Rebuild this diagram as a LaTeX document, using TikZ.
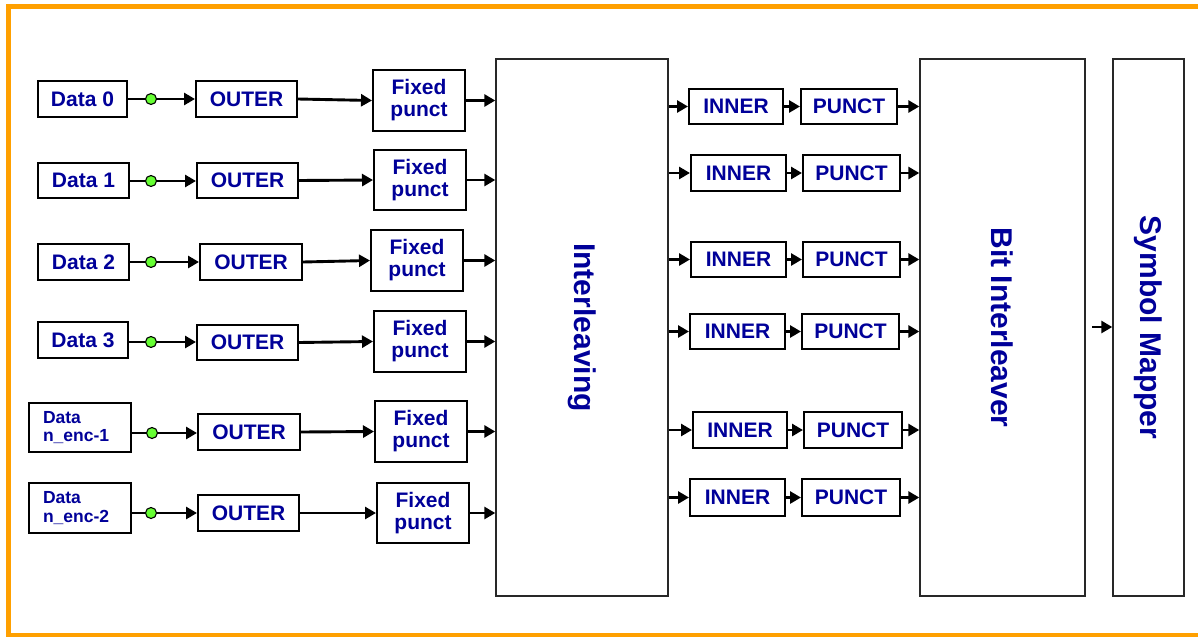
\documentclass[tikz,border=0pt]{standalone}
\usepackage{fontspec}
\setmainfont{Liberation Sans}
\usetikzlibrary{arrows.meta}
\definecolor{tblue}{RGB}{0,0,153}
\definecolor{frameorange}{RGB}{255,160,0}
\definecolor{dotgreen}{RGB}{102,255,51}
\definecolor{bigline}{RGB}{40,40,40}
\begin{document}
\begin{tikzpicture}[x=1pt,y=-1pt,
  box/.style={draw, line width=2pt, fill=white, inner sep=0pt, text=tblue,
    font=\fontsize{21}{22}\selectfont\bfseries, align=center},
  smallbox/.style={box, font=\fontsize{17.5}{18.5}\selectfont\bfseries, text width=74pt, align=left},
  big/.style={draw=bigline, line width=1.4pt, inner sep=0pt, text=tblue,
    font=\fontsize{30}{32}\selectfont\bfseries, minimum height=537pt},
  arr/.style={line width=2.9pt, -{Triangle[length=11pt,width=12pt]}},
  ln/.style={line width=2.9pt},
  dot/.style={circle, draw, line width=1.1pt, fill=dotgreen, inner sep=0pt, minimum size=11pt}]
\useasboundingbox (0,0) rectangle (1198,637);
% frame
\draw[frameorange, line width=4.5pt, line join=miter] (1200,6.5) -- (8.5,6.5) -- (8.5,635) -- (1200,635);

% big blocks
\node[big, minimum width=172pt] (il) at (582,327.5) {\rotatebox{-90}{Interleaving}};
\node[big, minimum width=165pt] (bit) at (1002.5,327.5) {\rotatebox{-90}{Bit Interleaver}};
\node[big, minimum width=71pt] (sym) at (1148.5,327.5) {\rotatebox{-90}{Symbol Mapper}};

% data boxes
\node[box, minimum width=89pt, minimum height=36pt] (d0) at (82.5,99) {Data 0};
\node[box, minimum width=91pt, minimum height=35pt] (d1) at (83.5,180.5) {Data 1};
\node[box, minimum width=91pt, minimum height=36pt] (d2) at (83.5,262) {Data 2};
\node[box, minimum width=90pt, minimum height=36pt] (d3) at (83,340) {Data 3};
\node[smallbox, minimum width=102pt, minimum height=49pt] (d4) at (80,427.5) {Data\\n\_enc-1};
\node[smallbox, minimum width=102pt, minimum height=50pt] (d5) at (80,508) {Data\\n\_enc-2};

% outer boxes
\node[box, minimum width=101pt, minimum height=36pt] (o0) at (246.5,99) {OUTER};
\node[box, minimum width=101pt, minimum height=35pt] (o1) at (247.5,180.5) {OUTER};
\node[box, minimum width=102pt, minimum height=36pt] (o2) at (251,262) {OUTER};
\node[box, minimum width=101pt, minimum height=35pt] (o3) at (247.5,342.5) {OUTER};
\node[box, minimum width=102pt, minimum height=36pt] (o4) at (249,432) {OUTER};
\node[box, minimum width=101pt, minimum height=36pt] (o5) at (248.5,513) {OUTER};

% fixed punct boxes
\node[box, minimum width=92pt, minimum height=61pt] (f0) at (419,100.5) {Fixed\\punct};
\node[box, minimum width=92pt, minimum height=60pt] (f1) at (420,180) {Fixed\\punct};
\node[box, minimum width=92pt, minimum height=61pt] (f2) at (417,260.5) {Fixed\\punct};
\node[box, minimum width=92pt, minimum height=61pt] (f3) at (420,341.5) {Fixed\\punct};
\node[box, minimum width=92pt, minimum height=61pt] (f4) at (421,431.5) {Fixed\\punct};
\node[box, minimum width=92pt, minimum height=60pt] (f5) at (423,513) {Fixed\\punct};

% inner / punct boxes
\node[box, minimum width=94pt, minimum height=35pt] (ia) at (736,106.5) {INNER};
\node[box, minimum width=96pt, minimum height=35pt] (pa) at (849,106.5) {PUNCT};
\node[box, minimum width=95pt, minimum height=36pt] (ib) at (738.5,173) {INNER};
\node[box, minimum width=97pt, minimum height=36pt] (pb) at (851.5,173) {PUNCT};
\node[box, minimum width=95pt, minimum height=35pt] (ic) at (738.5,259.5) {INNER};
\node[box, minimum width=97pt, minimum height=35pt] (pc) at (851.5,259.5) {PUNCT};
\node[box, minimum width=95pt, minimum height=35pt] (id) at (737.5,331.5) {INNER};
\node[box, minimum width=97pt, minimum height=35pt] (pd) at (850.5,331.5) {PUNCT};
\node[box, minimum width=94pt, minimum height=36pt] (ie) at (740,430) {INNER};
\node[box, minimum width=98pt, minimum height=36pt] (pe) at (853,430) {PUNCT};
\node[box, minimum width=95pt, minimum height=37pt] (if) at (737.5,497.5) {INNER};
\node[box, minimum width=98pt, minimum height=37pt] (pf) at (851,497.5) {PUNCT};

% left chains
\coordinate (c0) at (151,99);
\coordinate (c1) at (151,181);
\coordinate (c2) at (151,262);
\coordinate (c3) at (151,342);
\coordinate (c4) at (152,433);
\coordinate (c5) at (151,513);
\foreach \i in {0,...,5}{
  \draw[ln] (d\i.east |- c\i) -- (c\i);
  \draw[arr] (c\i) -- (c\i -| o\i.west);
  \draw[arr] (o\i.east) -- (f\i.west);
  \draw[arr] (f\i.east) -- (f\i.east -| il.west);
  \node[dot] (g\i) at (c\i) {};
}

% right chains
\foreach \r in {a,b,c,d,e,f}{
  \draw[arr] (i\r.west -| il.east) -- (i\r.west);
  \draw[arr] (i\r.east) -- (p\r.west);
  \draw[arr] (p\r.east) -- (p\r.east -| bit.west);
}

% to symbol mapper
\coordinate (bs) at (1092,327);
\draw[arr] (bs) -- (bs -| sym.west);
\end{tikzpicture}
\end{document}
